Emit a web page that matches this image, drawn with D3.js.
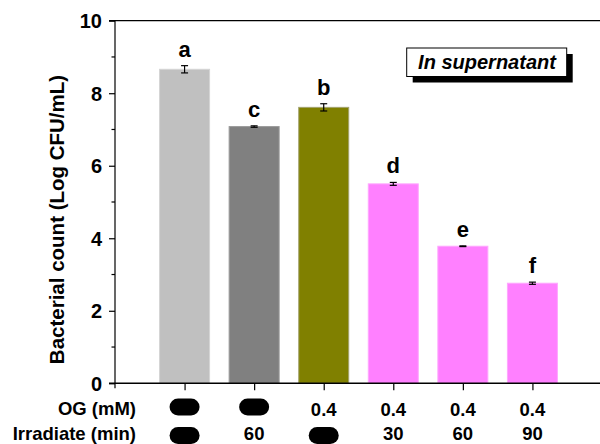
<!DOCTYPE html>
<html>
<head>
<meta charset="utf-8">
<script src="https://cdn.jsdelivr.net/npm/d3@7"></script>
<style>
  body { margin: 0; background: #fff; }
  text { font-family: "Liberation Sans", Arial, sans-serif; font-weight: bold; }
</style>
</head>
<body>
<script>
// data
var groups = [1, 2, 3, 4, 5, 6]
var counts = [8.66, 7.08, 7.61, 5.50, 3.78, 2.76]
var errs = [0.10, 0.02, 0.10, 0.04, 0.01, 0.03]
var letters = ["a", "c", "b", "d", "e", "f"]
var colors = ["#c0c0c0", "#808080", "#808000", "#ff80ff", "#ff80ff", "#ff80ff"]
var edges = ["#d4d4d4", "#9a9a9a", "#a3a370", "#ffa6ff", "#ffa6ff", "#ffa6ff"]
var ogRow = ["-", "-", "0.4", "0.4", "0.4", "0.4"]
var irrRow = ["-", "60", "-", "30", "60", "90"]
var yTicks = [0, 2, 4, 6, 8, 10]
var yMinor = [1, 3, 5, 7, 9]

var screen = {width: 600, height: 444}

var svg = d3.select("body").append("svg")
  .attr('width', screen.width)
  .attr('height', screen.height)

//scale
var xScale = d3.scaleLinear().domain([0, 7]).range([115, 602])
var yScale = d3.scaleLinear().domain([0, 10]).range([383.3, 20.7])
var barW = 50

// bars
svg.selectAll("rect.bar")
  .data(groups)
  .enter()
  .append("rect")
  .attr('class', 'bar')
  .attr('x', function(d){ return xScale(d) - barW / 2 })
  .attr('width', barW)
  .attr('y', function(d, i){ return yScale(counts[i]) })
  .attr('height', function(d, i){ return yScale(0) - yScale(counts[i]) })
  .attr('fill', function(d, i){ return colors[i] })
  .attr('stroke', function(d, i){ return edges[i] })
  .attr('stroke-width', 1)

// error bars
var eb = svg.append("g").attr('stroke', '#000').attr('stroke-width', 1.2)
groups.forEach(function(g, i){
  var cx = xScale(g)
  var top = yScale(counts[i] + errs[i]), bot = yScale(counts[i] - errs[i])
  eb.append("line").attr('x1', cx).attr('x2', cx).attr('y1', top).attr('y2', bot)
  eb.append("line").attr('x1', cx - 3.5).attr('x2', cx + 3.5).attr('y1', top).attr('y2', top)
  eb.append("line").attr('x1', cx - 3.5).attr('x2', cx + 3.5).attr('y1', bot).attr('y2', bot)
})

// significance letters
svg.selectAll("text.letter")
  .data(groups)
  .enter()
  .append("text")
  .attr('class', 'letter')
  .attr('x', function(d){ return xScale(d) })
  .attr('y', function(d, i){ return yScale(counts[i] + errs[i]) - 9 })
  .attr('text-anchor', 'middle')
  .attr('font-size', 22)
  .text(function(d, i){ return letters[i] })

// axes
var yAxis = d3.axisLeft(yScale).tickValues(yTicks).tickSize(6).tickPadding(7)
var gy = svg.append("g")
  .attr('transform', 'translate(115,0)')
  .call(yAxis)
gy.select(".domain").remove()
gy.selectAll("text").attr('font-size', 20).attr('dy', '0.36em')
  .style('font-family', '"Liberation Sans", Arial, sans-serif').style('font-weight', 'bold')
gy.selectAll("line").attr('stroke-width', 1.2)
gy.selectAll("line.minor")
  .data(yMinor)
  .enter()
  .append("line")
  .attr('class', 'minor')
  .attr('x1', -3.5).attr('x2', 0)
  .attr('y1', function(d){ return yScale(d) })
  .attr('y2', function(d){ return yScale(d) })
  .attr('stroke', '#000').attr('stroke-width', 1.2)

var xAxis = d3.axisBottom(xScale).tickValues(groups).tickSize(7).tickFormat("")
var gx = svg.append("g")
  .attr('transform', 'translate(0,' + yScale(0) + ')')
  .call(xAxis)
gx.select(".domain").remove()
gx.selectAll("line").attr('stroke-width', 1.2)

// frame
svg.append("line").attr('x1', 115).attr('x2', 115).attr('y1', yScale(10)).attr('y2', yScale(0) + 5)
  .attr('stroke', '#000').attr('stroke-width', 1.2)
svg.append("line").attr('x1', 109).attr('x2', 602).attr('y1', yScale(0)).attr('y2', yScale(0))
  .attr('stroke', '#000').attr('stroke-width', 1.5)
svg.append("line").attr('x1', 109).attr('x2', 602).attr('y1', yScale(10)).attr('y2', yScale(10))
  .attr('stroke', '#000').attr('stroke-width', 1.2)

// y label
svg.append("text")
  .attr('transform', 'translate(64,' + 219.5 + ') rotate(-90)')
  .attr('text-anchor', 'middle')
  .attr('font-size', 20.5)
  .text("Bacterial count (Log CFU/mL)")

// treatment rows
var rows = [
  {label: "OG (mM)", vals: ogRow, ly: 415, vy: 416, py: 407},
  {label: "Irradiate (min)", vals: irrRow, ly: 439.5, vy: 439.5, py: 435.5}
]
rows.forEach(function(r){
  svg.append("text")
    .attr('x', 136).attr('y', r.ly)
    .attr('text-anchor', 'end')
    .attr('font-size', 18.5)
    .text(r.label)
  groups.forEach(function(g, i){
    var cx = xScale(g)
    if (r.vals[i] == "-") {
      svg.append("rect")
        .attr('x', cx - 15).attr('y', r.py - 8.5)
        .attr('width', 30).attr('height', 17)
        .attr('rx', 8.5).attr('ry', 8.5)
        .attr('fill', '#000')
    } else {
      svg.append("text")
        .attr('x', cx).attr('y', r.vy)
        .attr('text-anchor', 'middle')
        .attr('font-size', 18.5)
        .text(r.vals[i])
    }
  })
})

// legend box
svg.append("rect").attr('x', 412.7).attr('y', 54).attr('width', 160).attr('height', 28.5).attr('fill', '#000')
svg.append("rect").attr('x', 406.7).attr('y', 48).attr('width', 160).attr('height', 28.5)
  .attr('fill', '#fff').attr('stroke', '#000').attr('stroke-width', 1)
svg.append("text")
  .attr('x', 487).attr('y', 69.3)
  .attr('text-anchor', 'middle')
  .attr('font-size', 20)
  .attr('font-style', 'italic')
  .text("In supernatant")
</script>
</body>
</html>
